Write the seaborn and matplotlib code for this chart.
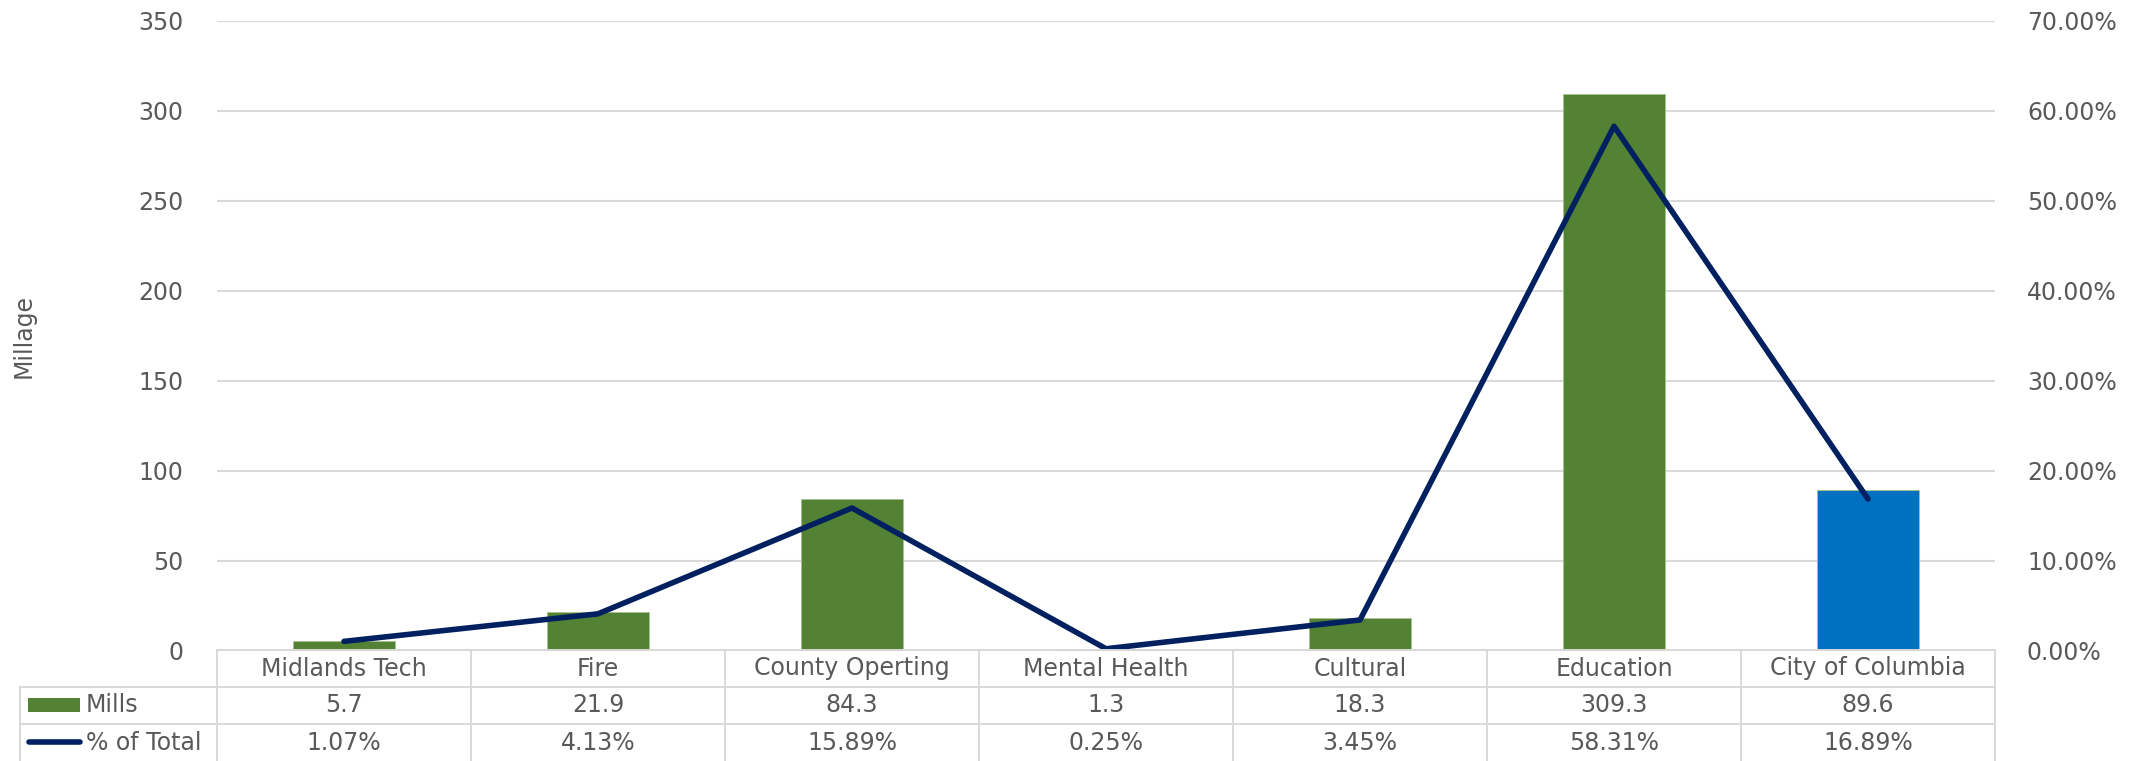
import numpy as np
import pandas as pd
import matplotlib
matplotlib.use("Agg")
import matplotlib.pyplot as plt
import seaborn as sns
from matplotlib.lines import Line2D
from matplotlib.patches import Rectangle
from matplotlib.ticker import FuncFormatter

categories = ["Midlands Tech", "Fire", "County Operting", "Mental Health",
              "Cultural", "Education", "City of Columbia"]
mills = [5.7, 21.9, 84.3, 1.3, 18.3, 309.3, 89.6]
pct_of_total = [1.07, 4.13, 15.89, 0.25, 3.45, 58.31, 16.89]
mills_labels = ["5.7", "21.9", "84.3", "1.3", "18.3", "309.3", "89.6"]
pct_labels = ["1.07%", "4.13%", "15.89%", "0.25%", "3.45%", "58.31%", "16.89%"]
left_ticks = [0, 50, 100, 150, 200, 250, 300, 350]
right_ticks = [0, 10, 20, 30, 40, 50, 60, 70]

GREEN = "#548235"
BLUE = "#0070C0"
NAVY = "#002060"
TXT = "#595959"
GRID = "#D9D9D9"

sns.set_theme(style="white")
plt.rcParams["font.family"] = ["DejaVu Sans"]
FS = 17

W, H = 2138, 761
fig = plt.figure(figsize=(W / 100, H / 100), dpi=100)
fig.patch.set_facecolor("white")

x0, x1 = 217, 1995
y_top, y_zero = 21, 651
ax = fig.add_axes([x0 / W, 1 - y_zero / H, (x1 - x0) / W, (y_zero - y_top) / H])

df = pd.DataFrame({"cat": categories, "mills": mills, "pct": pct_of_total})
palette = [GREEN] * (len(categories) - 1) + [BLUE]
sns.barplot(data=df, x="cat", y="mills", hue="cat", palette=palette,
            width=0.4, legend=False, ax=ax, saturation=1,
            edgecolor="#A9C08F", linewidth=0.6)
ax.set_ylim(0, 350)
ax.set_yticks(left_ticks)
ax.yaxis.grid(True, color=GRID, linewidth=1.5)
ax.set_axisbelow(True)
for s in ax.spines.values():
    s.set_visible(False)
ax.tick_params(axis="y", length=0, pad=24, labelsize=FS, labelcolor=TXT)
ax.tick_params(axis="x", length=0, labelbottom=False)
ax.set_xlabel("")
ax.set_ylabel("Millage", fontsize=FS, color=TXT)
ax.yaxis.set_label_coords((36 - x0) / (x1 - x0), 0.5)

ax2 = ax.twinx()
sns.lineplot(x=np.arange(len(categories)), y=np.array(pct_of_total), ax=ax2,
             color=NAVY, linewidth=4.0, sort=False)
ax2.set_ylim(0, 70)
ax2.set_yticks(right_ticks)
ax2.yaxis.set_major_formatter(FuncFormatter(lambda v, p: f"{v:.2f}%"))
ax2.tick_params(axis="y", length=0, pad=23, labelsize=FS, labelcolor=TXT)
for s in ax2.spines.values():
    s.set_visible(False)
ax2.set_ylabel("")
ax.set_xlim(-0.5, len(categories) - 0.5)
ax2.set_xlim(-0.5, len(categories) - 0.5)

# Data table drawn in pixel coordinates of the figure
def fx(px):
    return px / W

def fy(py):
    return 1 - py / H

col_w = (x1 - x0) / len(categories)
r0, r1, r2, r3 = 650, 687, 724, 761
lkw = dict(color=GRID, linewidth=1.4, transform=fig.transFigure)
fig.add_artist(Line2D([fx(x0), fx(x1)], [fy(r0), fy(r0)], **lkw))
for yy in (r1, r2):
    fig.add_artist(Line2D([fx(20), fx(x1)], [fy(yy), fy(yy)], **lkw))
for i in range(len(categories) + 1):
    xx = x0 + i * col_w
    fig.add_artist(Line2D([fx(xx), fx(xx)], [fy(r0), fy(r3)], **lkw))
fig.add_artist(Line2D([fx(20), fx(20)], [fy(r1), fy(r3)], **lkw))

for i, cat in enumerate(categories):
    cx = x0 + (i + 0.5) * col_w
    fig.text(fx(cx), fy((r0 + r1) / 2), cat, ha="center", va="center",
             fontsize=FS, color=TXT)
    fig.text(fx(cx), fy((r1 + r2) / 2), mills_labels[i], ha="center", va="center",
             fontsize=FS, color=TXT)
    fig.text(fx(cx), fy((r2 + r3) / 2), pct_labels[i], ha="center", va="center",
             fontsize=FS, color=TXT)

# legend keys
fig.add_artist(Rectangle((fx(28), fy(712)), fx(80) - fx(28), fy(698) - fy(712),
                         facecolor=GREEN, edgecolor="none", transform=fig.transFigure))
fig.text(fx(86), fy((r1 + r2) / 2), "Mills", ha="left", va="center",
         fontsize=FS, color=TXT)
fig.add_artist(Line2D([fx(29), fx(80)], [fy(742), fy(742)], color=NAVY,
                      linewidth=4.0, solid_capstyle="round", transform=fig.transFigure))
fig.text(fx(86), fy((r2 + r3) / 2), "% of Total", ha="left", va="center",
         fontsize=FS, color=TXT)

fig.savefig("out.png", dpi=100, facecolor="white")
